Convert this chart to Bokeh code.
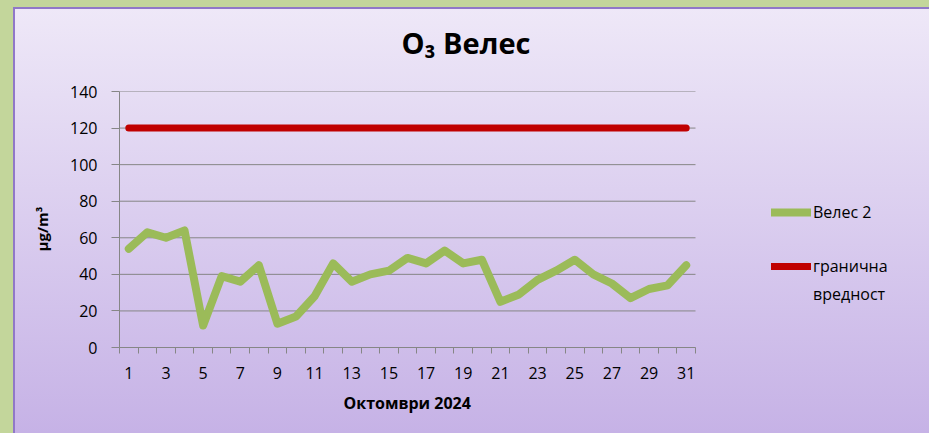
from bokeh.plotting import figure
from bokeh.models import (Legend, LegendItem, FixedTicker, Range1d, Title,
                          InlineStyleSheet, GlobalInlineStyleSheet)
from bokeh.embed import file_html
from bokeh.resources import INLINE

# ---- data ----
days = list(range(1, 32))
veles2 = [54, 63, 60, 64, 12, 39, 36, 45, 13, 17, 28, 46, 36, 40, 42, 49,
          46, 53, 46, 48, 25, 29, 37, 42, 48, 40, 35, 27, 32, 34, 45]
limit_value = [120] * len(days)
y_ticks = [0, 20, 40, 60, 80, 100, 120, 140]
x_tick_labels = [d for d in days if d % 2 == 1]

title_text = "O\u2083 Велес"
x_label = "Октомври 2024"
y_label = "\u03bcg/m\u00b3"
series_names = ["Велес 2", "гранична вредност"]

FONT = "Open Sans"
GRID = "#868686"
GREEN_BG = "#c3d69b"
BORDER = "#9078c8"

# layout: category axis spans 0.5..31.5 over 576 px; frame continues to the right edge
x_lo, x_hi = days[0] - 0.5, days[-1] + 0.5
px_per_unit = 576 / (x_hi - x_lo)
x_end = x_hi + 234 / px_per_unit

p = figure(width=929, height=433, output_backend="svg", toolbar_location=None,
           x_range=Range1d(x_lo, x_end), y_range=Range1d(0, 140),
           min_border_left=119, min_border_right=0,
           min_border_top=91, min_border_bottom=86)

p.background_fill_color = None
p.border_fill_color = None
p.outline_line_color = None

p.stylesheets = [
    GlobalInlineStyleSheet(css="html, body { background: %s; overflow: hidden; }" % GREEN_BG),
    InlineStyleSheet(css=":host { background: "
                     f"linear-gradient(to right, {GREEN_BG} 0px, {GREEN_BG} 13px, transparent 13px), "
                     f"linear-gradient(to bottom, {GREEN_BG} 0px, {GREEN_BG} 7px, transparent 7px), "
                     f"linear-gradient(to right, transparent 13px, {BORDER} 13px, {BORDER} 15px, transparent 15px), "
                     f"linear-gradient(to bottom, transparent 7px, {BORDER} 7px, {BORDER} 9px, transparent 9px), "
                     "linear-gradient(to bottom, #efe9f8 0%, #c6b2e6 100%); }"),
]

# horizontal grid lines limited to the category span
p.segment(x0=[x_lo] * len(y_ticks), y0=y_ticks, x1=[x_hi] * len(y_ticks), y1=y_ticks,
          line_color=GRID, line_width=1)

r_green = p.line(days, veles2, line_color="#9bbb59", line_width=8,
                 line_cap="round", line_join="round")
r_red = p.line(days, limit_value, line_color="#c00000", line_width=7,
               line_cap="round")
# invisible placeholder used only for legend row layout
r_blank = p.line([], [], line_alpha=0)

# spacer between frame and main title (innermost in the above panel)
p.add_layout(Title(text=" ", text_font_size="1px", standoff=27), "above")

# title
p.title.text = title_text
p.title.text_font = FONT
p.title.text_font_size = "29px"
p.title.text_font_style = "bold"
p.title.text_color = "#000000"
p.title.align = "left"
p.title.offset = 282
p.title.standoff = 0

# x axis
xa = p.xaxis[0]
xa.bounds = (x_lo, x_hi)
xa.ticker = FixedTicker(ticks=x_tick_labels,
                        minor_ticks=[d - 0.5 for d in days] + [x_hi])
xa.major_tick_out = 0
xa.major_tick_in = 0
xa.minor_tick_out = 6
xa.minor_tick_in = 0
xa.minor_tick_line_color = GRID
xa.axis_line_color = GRID
xa.major_label_text_font = FONT
xa.major_label_text_font_size = "16px"
xa.major_label_text_color = "#000000"
xa.major_label_standoff = 13
p.xgrid.visible = False

xtitle = Title(text=x_label, align="left", offset=224, standoff=16,
               text_font=FONT, text_font_size="16px", text_font_style="bold",
               text_color="#000000")
p.add_layout(xtitle, "below")

# y axis
ya = p.yaxis[0]
ya.ticker = FixedTicker(ticks=y_ticks)
ya.major_tick_out = 8
ya.major_tick_in = 0
ya.minor_tick_out = 0
ya.minor_tick_in = 0
ya.major_tick_line_color = GRID
ya.axis_line_color = GRID
ya.major_label_text_font = FONT
ya.major_label_text_font_size = "16px"
ya.major_label_text_color = "#000000"
ya.major_label_standoff = 14
p.ygrid.visible = False

ytitle = Title(text=y_label, align="left", offset=96, standoff=32,
               text_font=FONT, text_font_size="15px", text_font_style="bold",
               text_color="#000000")
p.add_layout(ytitle, "left")

limit_words = series_names[1].split(" ")
legend = Legend(items=[LegendItem(label=series_names[0], renderers=[r_green]),
                       LegendItem(label=" ", renderers=[r_blank]),
                       LegendItem(label=limit_words[0], renderers=[r_red]),
                       LegendItem(label=limit_words[1], renderers=[r_blank])],
                location=(652, 42), glyph_width=40, glyph_height=20,
                label_height=20, label_standoff=2, spacing=6,
                padding=0, margin=0,
                background_fill_alpha=0, border_line_alpha=0,
                label_text_font=FONT, label_text_font_size="16px",
                label_text_color="#000000")
p.add_layout(legend)

open("out.html", "w").write(file_html(p, INLINE))
